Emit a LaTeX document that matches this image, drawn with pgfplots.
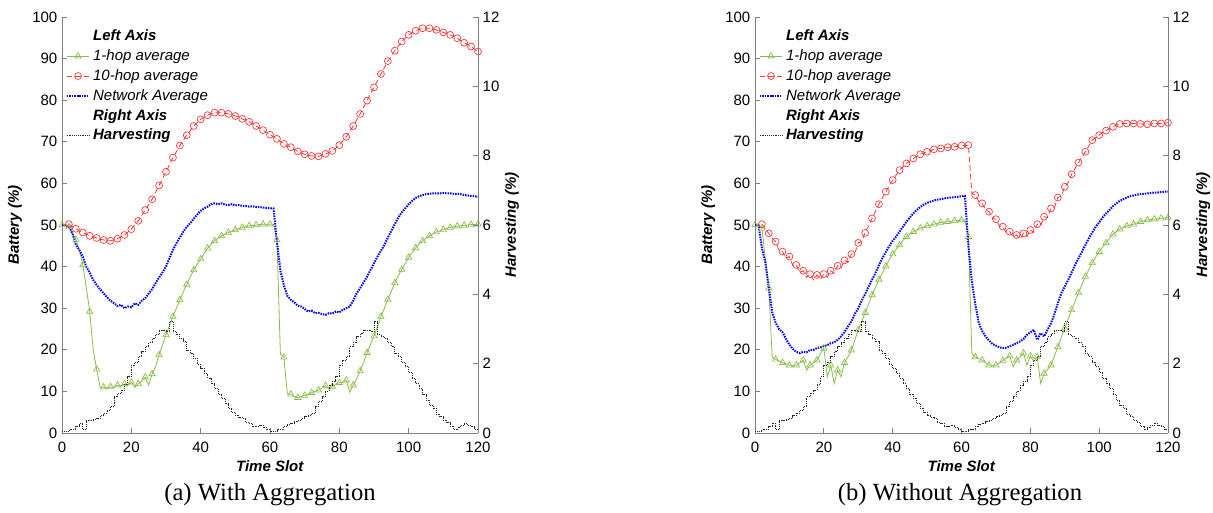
\documentclass[border=0pt]{standalone}
\usepackage{fontspec}
\setmainfont{Liberation Sans}
\newfontfamily\capfont{Liberation Serif}
\usepackage{pgfplots}
\usepackage{pgfplotstable}
\pgfplotsset{compat=1.18}

\definecolor{hopone}{RGB}{136,188,72}
\definecolor{hopten}{RGB}{250,50,50}
\definecolor{netavg}{RGB}{0,0,245}
\definecolor{harvcol}{RGB}{40,40,40}
\definecolor{axisgray}{RGB}{128,128,128}
\newcommand\ticksize{\fontsize{11.25}{13.5}\selectfont}
\newcommand\capsize{\fontsize{18.5}{22}\selectfont}

% ---------- harvesting (right axis, shared by both runs) ----------
\pgfplotstableread[row sep=\\]{x y\\
0 0.05\\ 1 0.05\\ 2 0.10\\ 3 0.10\\ 4 0.20\\ 5 0.28\\ 6 0.10\\ 7 0.35\\ 8 0.37\\ 9 0.40\\
10 0.42\\ 11 0.50\\ 12 0.57\\ 13 0.65\\ 14 0.76\\ 15 1.05\\ 16 1.15\\ 17 1.24\\ 18 1.40\\ 19 1.62\\
20 1.96\\ 21 2.05\\ 22 2.20\\ 23 2.35\\ 24 2.49\\ 25 2.60\\ 26 2.73\\ 27 2.85\\ 28 2.97\\ 29 2.95\\
30 2.92\\ 31 3.21\\ 32 2.92\\ 33 2.83\\ 34 2.72\\ 35 2.63\\ 36 2.39\\ 37 2.30\\ 38 2.15\\ 39 1.98\\
40 1.87\\ 41 1.72\\ 42 1.58\\ 43 1.42\\ 44 1.29\\ 45 1.12\\ 46 1.00\\ 47 0.85\\ 48 0.71\\ 49 0.60\\
50 0.52\\ 51 0.45\\ 52 0.42\\ 53 0.30\\ 54 0.28\\ 55 0.18\\ 56 0.20\\ 57 0.23\\ 58 0.15\\ 59 0.09\\
60 0.05\\ 61 0.04\\ 62 0.10\\ 63 0.09\\ 64 0.18\\ 65 0.25\\ 66 0.28\\ 67 0.33\\ 68 0.37\\ 69 0.42\\
70 0.47\\ 71 0.52\\ 72 0.57\\ 73 0.76\\ 74 0.90\\ 75 1.05\\ 76 1.20\\ 77 1.38\\ 78 1.50\\ 79 1.62\\
80 1.96\\ 81 2.10\\ 82 2.20\\ 83 2.49\\ 84 2.60\\ 85 2.78\\ 86 2.88\\ 87 2.97\\ 88 2.97\\ 89 2.92\\
90 3.21\\ 91 2.83\\ 92 2.78\\ 93 2.73\\ 94 2.60\\ 95 2.49\\ 96 2.30\\ 97 2.20\\ 98 2.05\\ 99 1.91\\
100 1.75\\ 101 1.58\\ 102 1.42\\ 103 1.29\\ 104 1.10\\ 105 0.95\\ 106 0.80\\ 107 0.71\\ 108 0.55\\ 109 0.47\\
110 0.37\\ 111 0.30\\ 112 0.20\\ 113 0.09\\ 114 0.15\\ 115 0.22\\ 116 0.28\\ 117 0.22\\ 118 0.18\\ 119 0.10\\
120 0.09\\
}\harvest

% ---------- (a) with aggregation ----------
\pgfplotstableread[row sep=\\]{x y\\
0 50\\ 1 50\\ 2 49.5\\ 3 48\\ 4 46.5\\ 5 44\\ 6 40.4\\ 7 35\\ 8 29.2\\ 9 20\\
10 15.3\\ 11 11\\ 12 11\\ 13 10.8\\ 14 11.1\\ 15 11\\ 16 11.5\\ 17 11.3\\ 18 11.8\\ 19 11.5\\
20 12.2\\ 21 11\\ 22 11.8\\ 23 12.5\\ 24 13.4\\ 25 11.5\\ 26 14.2\\ 27 16\\ 28 18.8\\ 29 21.2\\
30 23.6\\ 31 25.8\\ 32 28\\ 33 30\\ 34 32\\ 35 34\\ 36 35.7\\ 37 37.5\\ 38 39.2\\ 39 40.6\\
40 41.8\\ 41 43.2\\ 42 44.4\\ 43 45.4\\ 44 46.2\\ 45 46.8\\ 46 47.4\\ 47 47.8\\ 48 48.2\\ 49 48.5\\
50 48.8\\ 51 49.1\\ 52 49.4\\ 53 49.6\\ 54 49.8\\ 55 49.9\\ 56 50\\ 57 50.1\\ 58 50.2\\ 59 50.2\\
60 50.2\\ 61 50.2\\ 62 46.4\\ 63 19\\ 64 18.2\\ 65 9.4\\ 66 9.3\\ 67 8.8\\ 68 8.5\\ 69 8.8\\
70 9\\ 71 9.3\\ 72 9.7\\ 73 10\\ 74 10.3\\ 75 10.8\\ 76 11.4\\ 77 10.5\\ 78 11.1\\ 79 11.8\\
80 12.1\\ 81 12.2\\ 82 12.7\\ 83 9.8\\ 84 11.5\\ 85 13\\ 86 14.9\\ 87 17\\ 88 19.3\\ 89 21.3\\
90 23.3\\ 91 25.6\\ 92 28\\ 93 30\\ 94 32.1\\ 95 34.1\\ 96 36.1\\ 97 37.8\\ 98 39.3\\ 99 40.8\\
100 42.2\\ 101 43.4\\ 102 44.5\\ 103 45.4\\ 104 46.2\\ 105 46.8\\ 106 47.4\\ 107 47.9\\ 108 48.3\\ 109 48.6\\
110 48.9\\ 111 49.2\\ 112 49.4\\ 113 49.6\\ 114 49.7\\ 115 49.8\\ 116 49.9\\ 117 50\\ 118 50.1\\ 119 50.1\\
120 50.2\\
}\oneA

\pgfplotstableread[row sep=\\]{x y\\
2 50.2\\ 4 49.1\\ 6 48.2\\ 8 47.4\\ 10 46.9\\ 12 46.4\\ 14 46.2\\ 16 46.7\\ 18 47.6\\ 20 49\\
22 51\\ 24 53.6\\ 26 56.2\\ 28 59.5\\ 30 62.8\\ 32 66.2\\ 34 69.1\\ 36 71.6\\ 38 73.8\\ 40 75.4\\
42 76.4\\ 44 77\\ 46 77\\ 48 76.7\\ 50 76.2\\ 52 75.5\\ 54 74.8\\ 56 73.8\\ 58 72.8\\ 60 71.7\\
62 70.7\\ 64 69.5\\ 66 68.7\\ 68 67.7\\ 70 67\\ 72 66.6\\ 74 66.5\\ 76 67.1\\ 78 67.8\\ 80 69.2\\
82 71.2\\ 84 73.8\\ 86 76.7\\ 88 79.9\\ 90 83.1\\ 92 86.3\\ 94 89.4\\ 96 91.9\\ 98 94.1\\ 100 95.7\\
102 96.7\\ 104 97.3\\ 106 97.3\\ 108 96.9\\ 110 96.3\\ 112 95.7\\ 114 94.9\\ 116 93.8\\ 118 92.9\\ 120 91.7\\
}\tenA

\pgfplotstableread[row sep=\\]{x y\\
0 50\\ 1 50\\ 2 49.6\\ 3 48\\ 4 45.2\\ 5 44\\ 6 42.4\\ 7 40\\ 8 38.5\\ 9 36.8\\
10 35.6\\ 11 34.5\\ 12 33.6\\ 13 32.6\\ 14 31.8\\ 15 31.2\\ 16 30.5\\ 17 30.8\\ 18 30\\ 19 30.4\\
20 30.2\\ 21 31.2\\ 22 30.8\\ 23 31.8\\ 24 32.4\\ 25 33.5\\ 26 34.6\\ 27 36\\ 28 37.4\\ 29 38.6\\
30 40\\ 31 42\\ 32 44\\ 33 45.6\\ 34 47\\ 35 48.4\\ 36 49.6\\ 37 50.4\\ 38 51.5\\ 39 52.5\\
40 53.4\\ 41 54\\ 42 54.4\\ 43 55\\ 44 55.2\\ 45 55\\ 46 55.2\\ 47 54.9\\ 48 54.8\\ 49 55\\
50 54.7\\ 51 54.8\\ 52 54.6\\ 53 54.6\\ 54 54.4\\ 55 54.5\\ 56 54.3\\ 57 54.3\\ 58 54.2\\ 59 54.1\\
60 54\\ 61 54\\ 62 46\\ 63 39\\ 64 35.5\\ 65 33\\ 66 32\\ 67 31.4\\ 68 30.6\\ 69 30.4\\
70 29.8\\ 71 29.2\\ 72 29.4\\ 73 28.8\\ 74 28.9\\ 75 28.6\\ 76 28.4\\ 77 28.8\\ 78 28.7\\ 79 29.2\\
80 29\\ 81 29.6\\ 82 30\\ 83 30.4\\ 84 31.8\\ 85 33.6\\ 86 34.8\\ 87 36.2\\ 88 37.6\\ 89 39.2\\
90 40.8\\ 91 42.4\\ 92 43.8\\ 93 45.2\\ 94 47\\ 95 48.6\\ 96 50.2\\ 97 51.8\\ 98 53\\ 99 54\\
100 55\\ 101 55.8\\ 102 56.5\\ 103 56.9\\ 104 57.2\\ 105 57.4\\ 106 57.5\\ 107 57.6\\ 108 57.6\\ 109 57.6\\
110 57.7\\ 111 57.6\\ 112 57.6\\ 113 57.5\\ 114 57.5\\ 115 57.4\\ 116 57.2\\ 117 57.1\\ 118 57\\ 119 56.9\\
120 56.8\\
}\netA

% ---------- (b) without aggregation ----------
\pgfplotstableread[row sep=\\]{x y\\
0 50\\ 1 50\\ 2 49.2\\ 3 42\\ 4 34.8\\ 5 18.3\\ 6 17.7\\ 7 17.3\\ 8 16.9\\ 9 16.6\\
10 16.3\\ 11 16.3\\ 12 16.3\\ 13 16.8\\ 14 17.5\\ 15 15.1\\ 16 16.3\\ 17 16.9\\ 18 17.5\\ 19 19\\
20 20.4\\ 21 13.5\\ 22 16.3\\ 23 11.9\\ 24 15.1\\ 25 13.5\\ 26 16.9\\ 27 18.3\\ 28 19.9\\ 29 22.3\\
30 24.8\\ 31 26.8\\ 32 28.9\\ 33 31\\ 34 33.2\\ 35 35\\ 36 36.9\\ 37 38.5\\ 38 40.1\\ 39 41.6\\
40 43\\ 41 44.2\\ 42 45.2\\ 43 46.3\\ 44 47.2\\ 45 47.8\\ 46 48.4\\ 47 48.8\\ 48 49.2\\ 49 49.5\\
50 49.8\\ 51 50\\ 52 50.2\\ 53 50.4\\ 54 50.6\\ 55 50.7\\ 56 50.8\\ 57 50.9\\ 58 51\\ 59 51.1\\
60 51.2\\ 61 51.2\\ 62 47.2\\ 63 19.2\\ 64 18.3\\ 65 17.9\\ 66 17.5\\ 67 16.9\\ 68 16.3\\ 69 16.3\\
70 16.3\\ 71 16.8\\ 72 17.4\\ 73 18\\ 74 18.5\\ 75 15.9\\ 76 17.5\\ 77 18.3\\ 78 19.2\\ 79 16.3\\
80 18.5\\ 81 17.2\\ 82 18.3\\ 83 11.9\\ 84 14.3\\ 85 15.3\\ 86 16.3\\ 87 18.5\\ 88 20.7\\ 89 23\\
90 25.2\\ 91 27.4\\ 92 29.6\\ 93 31.7\\ 94 33.7\\ 95 35.7\\ 96 37.6\\ 97 39.3\\ 98 40.9\\ 99 42.3\\
100 43.6\\ 101 44.7\\ 102 45.7\\ 103 46.8\\ 104 47.8\\ 105 48.4\\ 106 49\\ 107 49.4\\ 108 49.8\\ 109 50\\
110 50.2\\ 111 50.5\\ 112 50.8\\ 113 51\\ 114 51.2\\ 115 51.3\\ 116 51.4\\ 117 51.5\\ 118 51.6\\ 119 51.7\\
120 51.8\\
}\oneB

\pgfplotstableread[row sep=\\]{x y\\
2 50.2\\ 3 49\\ 4 48\\ 5 46.8\\ 6 46\\ 7 43.8\\ 8 43.6\\ 9 42\\ 10 42.4\\ 11 40.2\\
12 40.4\\ 13 38.6\\ 14 39\\ 15 37.4\\ 16 38.2\\ 17 36.8\\ 18 38\\ 19 36.9\\ 20 38.2\\ 21 37.4\\
22 39\\ 23 38.4\\ 24 40.2\\ 25 39.6\\ 26 41.5\\ 27 41\\ 28 43\\ 29 43.2\\ 30 45.7\\ 31 46\\
32 48.1\\ 33 49.8\\ 34 51.6\\ 35 53.3\\ 36 55\\ 37 56.5\\ 38 58\\ 39 59.4\\ 40 60.8\\ 41 62\\
42 63.2\\ 43 64\\ 44 64.8\\ 45 65.4\\ 46 66\\ 47 66.5\\ 48 67\\ 49 67.3\\ 50 67.6\\ 51 67.9\\
52 68.2\\ 53 68.3\\ 54 68.4\\ 55 68.5\\ 56 68.7\\ 57 68.7\\ 58 68.8\\ 59 68.9\\ 60 69.1\\ 61 69.1\\
62 69.2\\ 63 57.6\\ 64 57.2\\ 65 55.6\\ 66 55.2\\ 67 53.6\\ 68 53.2\\ 69 51.6\\ 70 51.4\\ 71 49.8\\
72 49.6\\ 73 48.2\\ 74 48.4\\ 75 47.2\\ 76 47.6\\ 77 46.6\\ 78 48\\ 79 47.2\\ 80 48.8\\ 81 48.2\\
82 50.2\\ 83 49.8\\ 84 52\\ 85 51.8\\ 86 54\\ 87 54.2\\ 88 56.6\\ 89 57\\ 90 59.2\\ 91 60.2\\
92 62.2\\ 93 63.6\\ 94 65\\ 95 66.3\\ 96 67.6\\ 97 69\\ 98 70.4\\ 99 71\\ 100 71.6\\ 101 72.2\\
102 72.7\\ 103 73.2\\ 104 73.6\\ 105 74\\ 106 74.3\\ 107 74.4\\ 108 74.4\\ 109 74.4\\ 110 74.4\\ 111 74.4\\
112 74.3\\ 113 74.2\\ 114 74.2\\ 115 74.3\\ 116 74.4\\ 117 74.4\\ 118 74.4\\ 119 74.5\\ 120 74.6\\
}\tenB

\pgfplotstableread[row sep=\\]{x y\\
0 50\\ 1 50\\ 2 44.5\\ 3 41\\ 4 35\\ 5 29\\ 6 26.5\\ 7 25\\ 8 24.2\\ 9 22.6\\
10 21.2\\ 11 20.2\\ 12 19.5\\ 13 19.2\\ 14 19.5\\ 15 19.4\\ 16 20\\ 17 20\\ 18 20.4\\ 19 20.6\\
20 20.9\\ 21 21.1\\ 22 21.6\\ 23 21.8\\ 24 22.4\\ 25 23.2\\ 26 24.3\\ 27 25.6\\ 28 26.8\\ 29 28.6\\
30 30\\ 31 31.8\\ 32 33.4\\ 33 35.2\\ 34 36.8\\ 35 38.5\\ 36 40.3\\ 37 42\\ 38 43.5\\ 39 44.9\\
40 46.2\\ 41 47.2\\ 42 48.4\\ 43 49.6\\ 44 50.8\\ 45 51.8\\ 46 52.8\\ 47 53.6\\ 48 54.3\\ 49 54.9\\
50 55.3\\ 51 55.6\\ 52 55.9\\ 53 56.1\\ 54 56.2\\ 55 56.4\\ 56 56.5\\ 57 56.6\\ 58 56.7\\ 59 56.8\\
60 56.9\\ 61 57\\ 62 45\\ 63 36.5\\ 64 31\\ 65 26.5\\ 66 24.5\\ 67 23.2\\ 68 22.2\\ 69 21.4\\
70 21\\ 71 20.6\\ 72 20.4\\ 73 20.5\\ 74 20.8\\ 75 21.2\\ 76 21.6\\ 77 22\\ 78 22.6\\ 79 23.6\\
80 24.2\\ 81 24.8\\ 82 22.4\\ 83 24\\ 84 23.2\\ 85 24.8\\ 86 26.4\\ 87 28.6\\ 88 31.2\\ 89 33.6\\
90 35.2\\ 91 36.8\\ 92 38.6\\ 93 40.4\\ 94 42\\ 95 43.6\\ 96 45.2\\ 97 46.8\\ 98 48.2\\ 99 49.6\\
100 50.6\\ 101 51.8\\ 102 52.8\\ 103 53.6\\ 104 54.5\\ 105 55.2\\ 106 55.8\\ 107 56.2\\ 108 56.6\\ 109 56.9\\
110 57.1\\ 111 57.3\\ 112 57.4\\ 113 57.5\\ 114 57.6\\ 115 57.7\\ 116 57.8\\ 117 57.8\\ 118 57.9\\ 119 58\\
120 58\\
}\netB

\pgfplotsset{
  batt/.style={
    scale only axis, height=312pt,
    xmin=0, xmax=120, ymin=0, ymax=100,
    axis x line*=bottom, axis y line*=left,
    axis line style={axisgray, line width=0.6pt, -},
    tick style={axisgray, line width=0.6pt}, tick align=inside, major tick length=4pt,
    xtick={0,20,...,120}, ytick={0,10,...,100},
    tick label style={font=\ticksize, black},
    xticklabel style={yshift=-3pt},
    /pgf/number format/assume math mode=true,
    xlabel={\textbf{\textit{Time Slot}}},
    every axis x label/.style={at={(rel axis cs:0.5,-0.079)}, anchor=center, font=\ticksize},
    ylabel={\textbf{\textit{Battery (\%)}}},
    every axis y label/.style={at={(rel axis cs:-0.113,0.5)}, anchor=center, rotate=90, font=\ticksize},
    legend style={at={(rel axis cs:0.005,0.979)}, anchor=north west, draw=none, fill=none,
      font=\ticksize\itshape, row sep=1.2pt, inner sep=1pt},
    legend cell align=left,
  },
  harv/.style={
    scale only axis, height=312pt,
    xmin=0, xmax=120, ymin=0, ymax=12,
    axis x line=none, axis y line*=right,
    axis line style={axisgray, line width=0.6pt, -},
    tick style={axisgray, line width=0.6pt}, tick align=inside, major tick length=4pt,
    ytick={0,2,...,12},
    tick label style={font=\ticksize, black},
    /pgf/number format/assume math mode=true,
    ylabel={\textbf{\textit{Harvesting (\%)}}},
  },
}

% legend block shared by both panels
\newcommand\chartlegend{%
  \addlegendimage{legend image code/.code={}}
  \addlegendentry{\textbf{Left Axis}}
  \addlegendimage{color=hopone, line width=0.6pt, mark=triangle, mark size=2.7pt,
    mark options={solid, line width=0.5pt}}
  \addlegendentry{1-hop average}
  \addlegendimage{color=hopten, line width=0.6pt, dash pattern=on 4pt off 2.5pt,
    mark=o, mark size=2.6pt, mark options={solid, line width=0.5pt}}
  \addlegendentry{10-hop average}
  \addlegendimage{color=netavg, line width=1.5pt, dash pattern=on 1.1pt off 0.8pt}
  \addlegendentry{Network Average}
  \addlegendimage{legend image code/.code={}}
  \addlegendentry{\textbf{Right Axis}}
  \addlegendimage{color=harvcol, line width=0.6pt, dash pattern=on 0.6pt off 0.8pt}
  \addlegendentry{\textbf{Harvesting}}
}

\begin{document}
\begin{tikzpicture}
\path[use as bounding box] (0,0) rectangle (909.75pt,384.75pt);

% ---- (a) ----
\begin{axis}[batt, width=312pt, at={(46.5pt,60pt)}, anchor=south west]
  \addplot[forget plot, color=hopone, line width=0.6pt, mark=triangle, mark size=2.7pt,
    mark repeat=2, mark options={solid, line width=0.5pt}] table {\oneA};
  \addplot[forget plot, color=hopten, line width=0.6pt, dash pattern=on 4pt off 2.5pt,
    mark=o, mark size=2.6pt, mark options={solid, line width=0.5pt}] table {\tenA};
  \addplot[forget plot, color=netavg, line width=1.5pt, dash pattern=on 1.1pt off 0.8pt] table {\netA};
  \chartlegend
\end{axis}
\begin{axis}[harv, width=312pt, at={(46.5pt,60pt)}, anchor=south west,
  every axis y label/.style={at={(rel axis cs:1.082,0.5)}, anchor=center, rotate=90, font=\ticksize}]
  \addplot[color=harvcol, line width=0.6pt, dash pattern=on 0.6pt off 0.8pt, const plot] table {\harvest};
\end{axis}

% ---- (b) ----
\begin{axis}[batt, width=309.75pt, at={(566.25pt,60pt)}, anchor=south west]
  \addplot[forget plot, color=hopone, line width=0.6pt, mark=triangle, mark size=2.7pt,
    mark repeat=2, mark options={solid, line width=0.5pt}] table {\oneB};
  \addplot[forget plot, color=hopten, line width=0.6pt, dash pattern=on 4pt off 2.5pt,
    mark=o, mark size=2.6pt, mark repeat=2, mark options={solid, line width=0.5pt}] table {\tenB};
  \addplot[forget plot, color=netavg, line width=1.5pt, dash pattern=on 1.1pt off 0.8pt] table {\netB};
  \chartlegend
\end{axis}
\begin{axis}[harv, width=309.75pt, at={(566.25pt,60pt)}, anchor=south west,
  every axis y label/.style={at={(rel axis cs:1.085,0.5)}, anchor=center, rotate=90, font=\ticksize}]
  \addplot[color=harvcol, line width=0.6pt, dash pattern=on 0.6pt off 0.8pt, const plot] table {\harvest};
\end{axis}

\node[font=\capfont\capsize, anchor=base] at (202.5pt,9.5pt) {(a) With Aggregation};
\node[font=\capfont\capsize, anchor=base] at (720pt,9.5pt) {(b) Without Aggregation};
\end{tikzpicture}
\end{document}
